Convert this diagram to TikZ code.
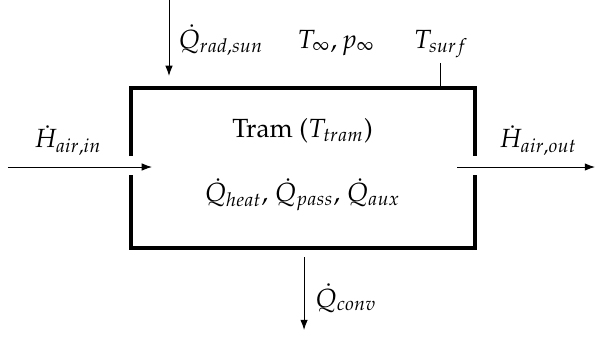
\documentclass[tikz,border=0pt,11pt]{standalone}
\usepackage{amsmath}
\usepackage[T1]{fontenc}
\usepackage{mathpazo}
\usetikzlibrary{positioning,arrows.meta}

\begin{document}
\begin{tikzpicture}[
  wall/.style={line width=1.4pt},
  flow/.style={-{Latex[length=1.5mm,width=1.1mm]}, line width=0.4pt},
  lbl/.style={inner sep=0pt, anchor=base}]
  \useasboundingbox (0,0) rectangle (8.71,4.963);
  % Define corners of the tram wall
  \coordinate (nw) at (1.918,3.675);
  \coordinate (ne) at (6.955,3.675);
  \coordinate (sw) at (1.918,1.332);
  \coordinate (se) at (6.955,1.332);
  % openings for the air flow
  \coordinate (wtop) at (1.918,2.679);
  \coordinate (wbot) at (1.918,2.401);
  \coordinate (etop) at (6.955,2.679);
  \coordinate (ebot) at (6.955,2.401);
  % draw the wall
  \draw[wall] (wtop) -- (nw) -- (ne) -- (etop);
  \draw[wall] (wbot) -- (sw) -- (se) -- (ebot);
  % inside the tram
  \node[lbl] (tram) at (4.43,2.943) {Tram ($T_{tram}$)};
  \node[lbl] (sources) at (4.43,2.006) {$\dot{Q}_{heat}$, $\dot{Q}_{pass}$, $\dot{Q}_{aux}$};
  % air flow in and out
  \coordinate (inS) at (0.117,2.518);
  \coordinate (inE) at (2.225,2.518);
  \coordinate (outS) at (6.69,2.518);
  \coordinate (outE) at (8.71,2.518);
  \draw[flow] (inS) -- (inE);
  \draw[flow] (outS) -- (outE);
  \node[lbl] (hin) at (0.996,2.797) {$\dot{H}_{air,in}$};
  \node[lbl] (hout) at (7.877,2.797) {$\dot{H}_{air,out}$};
  % radiation from the sun
  \coordinate (sunS) at (2.474,4.963);
  \coordinate (sunE) at (2.474,3.851);
  \draw[flow] (sunS) -- (sunE);
  \node[lbl, anchor=base west] (qsun) at (2.606,4.26) {$\dot{Q}_{rad,sun}$};
  % ambient and surface state
  \node[lbl] (amb) at (4.92,4.26) {$T_{\infty}, p_{\infty}$};
  \node[lbl] (tsurf) at (6.457,4.26) {$T_{surf}$};
  \coordinate (tick) at (6.442,4.041);
  \draw[line width=0.4pt] (tick) -- (tick |- ne);
  % convection to the outside
  \coordinate (convS) at (4.451,1.2);
  \coordinate (convE) at (4.451,0.132);
  \draw[flow] (convS) -- (convE);
  \node[lbl, anchor=base west] (qconv) at (4.61,0.468) {$\dot{Q}_{conv}$};
\end{tikzpicture}
\end{document}
